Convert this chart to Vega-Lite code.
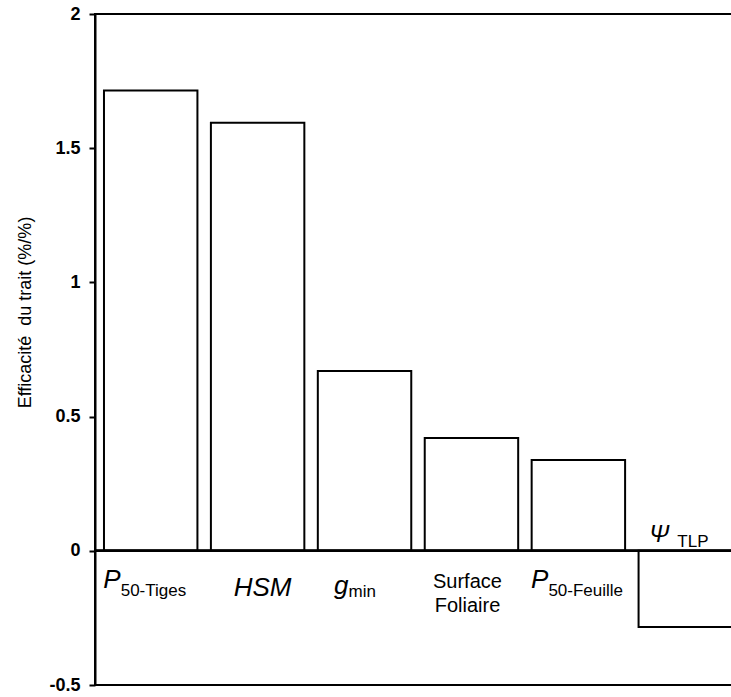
{
  "$schema": "https://vega.github.io/schema/vega-lite/v6.json",
  "autosize": {"type": "none"},
  "padding": {"left": 95, "top": 14, "right": 0, "bottom": 12},
  "width": 646,
  "height": 671,
  "background": "white",
  "config": {
    "font": "Liberation Sans",
    "view": {"stroke": "black", "strokeWidth": 2}
  },
  "data": {
    "values": [
      {"trait": "P50-Tiges", "value": 1.715, "main": "P", "sub": "50-Tiges"},
      {"trait": "HSM", "value": 1.595, "main": "HSM", "sub": ""},
      {"trait": "gmin", "value": 0.67, "main": "g", "sub": "min"},
      {"trait": "Surface Foliaire", "value": 0.42, "main": "Surface", "sub": "Foliaire"},
      {"trait": "P50-Feuille", "value": 0.338, "main": "P", "sub": "50-Feuille"},
      {"trait": "TLP", "value": -0.284, "main": "Ψ", "sub": "TLP"}
    ]
  },
  "encoding": {
    "x": {
      "field": "trait",
      "type": "nominal",
      "sort": null,
      "scale": {"paddingInner": 0.126, "paddingOuter": 0.084},
      "axis": null
    }
  },
  "layer": [
    {
      "mark": {"type": "bar", "fill": "white", "stroke": "black", "strokeWidth": 2},
      "encoding": {
        "y": {
          "field": "value",
          "type": "quantitative",
          "scale": {"domain": [-0.5, 2], "nice": false, "zero": false},
          "axis": {
            "values": [-0.5, 0, 0.5, 1, 1.5, 2],
            "labelExpr": "'' + datum.value",
            "grid": false,
            "domainColor": "black",
            "domainWidth": 2,
            "tickColor": "black",
            "tickWidth": 2,
            "tickSize": 6,
            "labelFont": "Liberation Sans",
            "labelFontWeight": "bold",
            "labelFontSize": 18,
            "labelColor": "black",
            "labelPadding": 9,
            "title": "Efficacité\u00a0 du trait (%/%)",
            "titleFont": "Liberation Sans",
            "titleFontWeight": "normal",
            "titleFontSize": 18,
            "titleColor": "black",
            "titleX": -65,
            "titleY": 298,
            "titleAngle": -90,
            "titleAlign": "center",
            "titleBaseline": "alphabetic"
          }
        }
      }
    },
    {
      "mark": {"type": "rule", "stroke": "black", "strokeWidth": 2},
      "encoding": {"y": {"datum": 0, "type": "quantitative"}, "x": {"value": 0}, "x2": {"value": 646}}
    },
    {
      "transform": [{"filter": "datum.main == 'P'"}],
      "mark": {"type": "text", "align": "right", "baseline": "alphabetic", "fontStyle": "italic", "fontSize": 26, "dx": -30, "dy": 37, "color": "black"},
      "encoding": {"y": {"datum": 0, "type": "quantitative"}, "text": {"field": "main"}}
    },
    {
      "transform": [{"filter": "datum.main == 'P'"}],
      "mark": {"type": "text", "align": "left", "baseline": "alphabetic", "fontSize": 17, "dx": -30, "dy": 45, "color": "black"},
      "encoding": {"y": {"datum": 0, "type": "quantitative"}, "text": {"field": "sub"}}
    },
    {
      "transform": [{"filter": "datum.trait == 'gmin'"}],
      "mark": {"type": "text", "align": "right", "baseline": "alphabetic", "fontStyle": "italic", "fontSize": 26, "dx": -16, "dy": 43, "color": "black"},
      "encoding": {"y": {"datum": 0, "type": "quantitative"}, "text": {"field": "main"}}
    },
    {
      "transform": [{"filter": "datum.trait == 'gmin'"}],
      "mark": {"type": "text", "align": "left", "baseline": "alphabetic", "fontSize": 17, "dx": -16, "dy": 46, "color": "black"},
      "encoding": {"y": {"datum": 0, "type": "quantitative"}, "text": {"field": "sub"}}
    },
    {
      "transform": [{"filter": "datum.trait == 'HSM'"}],
      "mark": {"type": "text", "align": "center", "baseline": "alphabetic", "fontStyle": "italic", "fontSize": 26, "dx": 5, "dy": 45, "color": "black"},
      "encoding": {"y": {"datum": 0, "type": "quantitative"}, "text": {"field": "main"}}
    },
    {
      "transform": [{"filter": "datum.trait == 'Surface Foliaire'"}],
      "mark": {"type": "text", "align": "center", "baseline": "alphabetic", "fontSize": 20, "dx": -4, "dy": 37, "color": "black"},
      "encoding": {"y": {"datum": 0, "type": "quantitative"}, "text": {"field": "main"}}
    },
    {
      "transform": [{"filter": "datum.trait == 'Surface Foliaire'"}],
      "mark": {"type": "text", "align": "center", "baseline": "alphabetic", "fontSize": 20, "dx": -4, "dy": 61, "color": "black"},
      "encoding": {"y": {"datum": 0, "type": "quantitative"}, "text": {"field": "sub"}}
    },
    {
      "transform": [{"filter": "datum.trait == 'TLP'"}],
      "mark": {"type": "text", "align": "right", "baseline": "alphabetic", "fontStyle": "italic", "fontSize": 24, "dx": -16, "dy": -9, "color": "black"},
      "encoding": {"y": {"datum": 0, "type": "quantitative"}, "text": {"field": "main"}}
    },
    {
      "transform": [{"filter": "datum.trait == 'TLP'"}],
      "mark": {"type": "text", "align": "left", "baseline": "alphabetic", "fontSize": 17, "dx": -8, "dy": -4, "color": "black"},
      "encoding": {"y": {"datum": 0, "type": "quantitative"}, "text": {"field": "sub"}}
    }
  ]
}
